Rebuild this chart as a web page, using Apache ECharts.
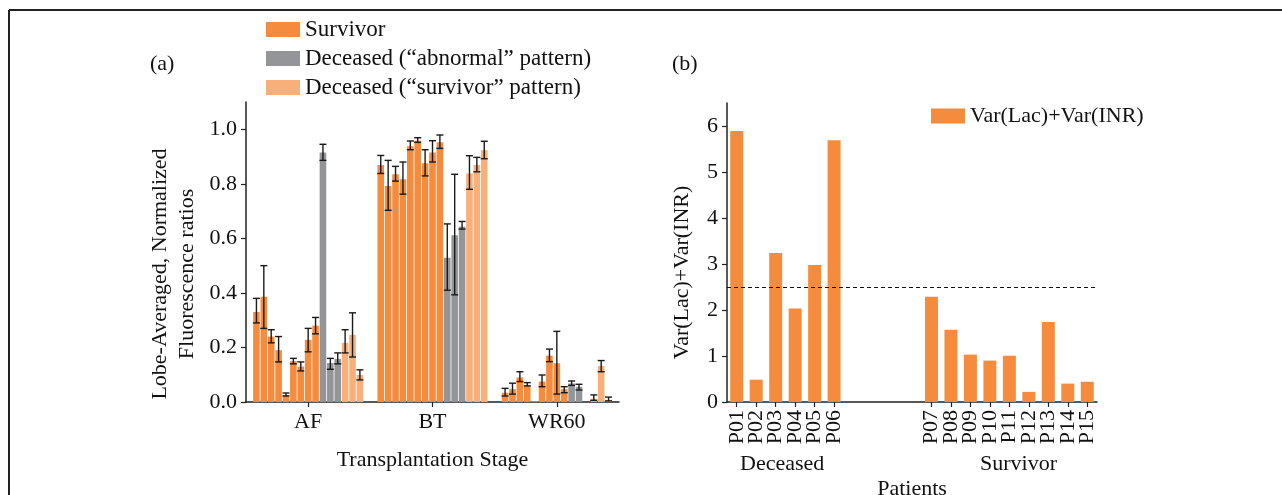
<!DOCTYPE html>
<html>
<head>
<meta charset="utf-8">
<script src="https://cdn.jsdelivr.net/npm/echarts@6/dist/echarts.min.js"></script>
<style>
  html, body { margin: 0; padding: 0; background: #fff; }
  #main { width: 1282px; height: 495px; }
</style>
</head>
<body>
<div id="main"></div>
<script>
// (a) fluorescence ratios, 15 livers per stage
const stages = ['AF', 'BT', 'WR60'];
const groupNames = ['Survivor', 'Deceased (\u201cabnormal\u201d pattern)', 'Deceased (\u201csurvivor\u201d pattern)'];
// which group each of the 15 bars belongs to
const barGroup = [0, 0, 0, 0, 0, 0, 0, 0, 0, 1, 1, 1, 2, 2, 2];

const afMean = [0.33, 0.386, 0.24, 0.19, 0.026, 0.15, 0.13, 0.228, 0.28, 0.915, 0.143, 0.158, 0.217, 0.246, 0.099];
const afLow = [0.29, 0.27, 0.217, 0.147, 0.022, 0.14, 0.114, 0.184, 0.25, 0.886, 0.12, 0.14, 0.18, 0.165, 0.081];
const afHigh = [0.38, 0.50, 0.265, 0.24, 0.033, 0.16, 0.147, 0.27, 0.31, 0.945, 0.16, 0.18, 0.265, 0.327, 0.118];

const btMean = [0.869, 0.792, 0.835, 0.817, 0.938, 0.958, 0.875, 0.915, 0.952, 0.529, 0.611, 0.643, 0.838, 0.869, 0.923];
const btLow = [0.838, 0.703, 0.81, 0.762, 0.925, 0.952, 0.829, 0.88, 0.93, 0.41, 0.393, 0.634, 0.78, 0.844, 0.892];
const btHigh = [0.904, 0.886, 0.864, 0.88, 0.957, 0.969, 0.925, 0.958, 0.979, 0.653, 0.835, 0.662, 0.903, 0.897, 0.956];

const wrMean = [0.034, 0.047, 0.09, 0.0625, 0.003, 0.075, 0.17, 0.142, 0.047, 0.068, 0.056, 0, 0.012, 0.132, 0.008];
const wrLow = [0.022, 0.029, 0.075, 0.059, null, 0.056, 0.148, 0.029, 0.034, 0.061, 0.044, null, 0.006, 0.111, 0.004];
const wrHigh = [0.05, 0.069, 0.111, 0.071, null, 0.099, 0.194, 0.259, 0.056, 0.077, 0.065, null, 0.026, 0.152, 0.018];

// (b) variance score per patient, blanks separate the two groups
const patients = ['P01', 'P02', 'P03', 'P04', 'P05', 'P06', ' ', '  ', '   ', '    ',
  'P07', 'P08', 'P09', 'P10', 'P11', 'P12', 'P13', 'P14', 'P15'];
const varScore = [5.89, 0.485, 3.24, 2.03, 2.98, 5.69, '-', '-', '-', '-',
  2.29, 1.57, 1.03, 0.90, 1.006, 0.22, 1.74, 0.40, 0.44];
const threshold = 2.5;
const yTicksA = [0, 0.2, 0.4, 0.6, 0.8, 1.0];
const yTicksB = [0, 1, 2, 3, 4, 5, 6];

const FONT = 'Liberation Serif';
const colors = ['#F58B3D', '#939598', '#F9AF7A'];
const axisColor = '#222';
const BAR_W = 6.6;
const BAR_GAP = 0.12;

var myChart = echarts.init(document.getElementById('main'));

const means = [afMean, btMean, wrMean];
const lows = [afLow, btLow, wrLow];
const highs = [afHigh, btHigh, wrHigh];

// one bar series per liver slot
let barSeries = barGroup.map((g, j) => ({
  name: groupNames[g],
  type: 'bar',
  xAxisIndex: 0,
  yAxisIndex: 0,
  barWidth: BAR_W,
  barGap: (BAR_GAP * 100) + '%',
  data: means.map(m => m[j]),
  itemStyle: { color: colors[g] },
  silent: true
}));

let errData = [];
for (let i = 0; i < stages.length; i++) {
  for (let j = 0; j < barGroup.length; j++) {
    if (lows[i][j] != null) errData.push([i, j, lows[i][j], highs[i][j]]);
  }
}

// error bars sit at the same offsets ECharts gives the bars
function renderErr(params, api) {
  const cat = api.value(0);
  const j = api.value(1);
  const lo = api.coord([cat, api.value(2)]);
  const hi = api.coord([cat, api.value(3)]);
  const n = barGroup.length;
  const total = n * BAR_W + (n - 1) * BAR_W * BAR_GAP;
  const x = lo[0] - total / 2 + j * BAR_W * (1 + BAR_GAP) + BAR_W / 2;
  const cap = 3.5;
  const style = { stroke: '#1a1a1a', lineWidth: 1.4 };
  return {
    type: 'group',
    children: [
      { type: 'line', shape: { x1: x, y1: lo[1], x2: x, y2: hi[1] }, style },
      { type: 'line', shape: { x1: x - cap, y1: lo[1], x2: x + cap, y2: lo[1] }, style },
      { type: 'line', shape: { x1: x - cap, y1: hi[1], x2: x + cap, y2: hi[1] }, style }
    ]
  };
}

const baseAxis = {
  axisLine: { show: true, lineStyle: { color: axisColor, width: 1.5 } },
  axisTick: { show: true, length: 5, lineStyle: { color: axisColor, width: 1.2 } },
  splitLine: { show: false },
  axisLabel: { color: '#111', fontFamily: FONT, fontSize: 22 },
  nameTextStyle: { color: '#111', fontFamily: FONT, fontSize: 22 }
};

let option = {
  animation: false,
  backgroundColor: '#fff',
  textStyle: { fontFamily: FONT },
  legend: [
    {
      data: groupNames,
      orient: 'vertical',
      left: 261,
      top: 13,
      itemWidth: 34,
      itemHeight: 15,
      itemGap: 6,
      icon: 'rect',
      selectedMode: false,
      textStyle: { fontFamily: FONT, fontSize: 23, lineHeight: 23, color: '#111' }
    },
    {
      data: ['Var(Lac)+Var(INR)'],
      left: 926,
      top: 100,
      itemWidth: 34,
      itemHeight: 15,
      icon: 'rect',
      selectedMode: false,
      textStyle: { fontFamily: FONT, fontSize: 22, lineHeight: 22, color: '#111' }
    }
  ],
  grid: [
    { left: 246, right: 663, top: 102, bottom: 93, outerBoundsMode: 'none' },
    { left: 727, right: 185, top: 103, bottom: 93, outerBoundsMode: 'none' }
  ],
  xAxis: [
    Object.assign({}, baseAxis, {
      gridIndex: 0,
      type: 'category',
      data: stages,
      axisTick: { show: true, alignWithLabel: true, length: 5, lineStyle: { color: axisColor, width: 1.2 } },
      axisLabel: Object.assign({}, baseAxis.axisLabel, { margin: 9 }),
      name: 'Transplantation Stage',
      nameLocation: 'middle',
      nameGap: 47
    }),
    Object.assign({}, baseAxis, {
      gridIndex: 1,
      type: 'category',
      data: patients,
      axisTick: {
        show: true, alignWithLabel: true, length: 5,
        interval: (idx, val) => val.trim() !== '',
        lineStyle: { color: axisColor, width: 1.2 }
      },
      axisLabel: Object.assign({}, baseAxis.axisLabel, { rotate: 90, margin: 8, interval: 0 }),
      name: 'Patients',
      nameLocation: 'middle',
      nameGap: 76
    })
  ],
  yAxis: [
    Object.assign({}, baseAxis, {
      gridIndex: 0,
      type: 'value',
      min: 0,
      max: 1.1,
      interval: 0.1,
      axisTick: { show: true, length: 5, customValues: yTicksA, lineStyle: { color: axisColor, width: 1.2 } },
      axisLabel: Object.assign({}, baseAxis.axisLabel, {
        margin: 9, customValues: yTicksA, formatter: v => v.toFixed(1)
      }),
      name: 'Lobe-Averaged, Normalized\nFluorescence ratios',
      nameLocation: 'middle',
      nameGap: 45,
      nameTextStyle: Object.assign({}, baseAxis.nameTextStyle, { lineHeight: 27, padding: [0, 44, 0, 0] })
    }),
    Object.assign({}, baseAxis, {
      gridIndex: 1,
      type: 'value',
      min: 0,
      max: 6.5,
      interval: 0.5,
      axisTick: { show: true, length: 5, customValues: yTicksB, lineStyle: { color: axisColor, width: 1.2 } },
      axisLabel: Object.assign({}, baseAxis.axisLabel, { margin: 9, customValues: yTicksB }),
      name: 'Var(Lac)+Var(INR)',
      nameLocation: 'middle',
      nameGap: 34,
      nameTextStyle: Object.assign({}, baseAxis.nameTextStyle, { padding: [0, 40, 0, 0] })
    })
  ],
  series: barSeries.concat([
    {
      name: 'err',
      type: 'custom',
      xAxisIndex: 0,
      yAxisIndex: 0,
      renderItem: renderErr,
      encode: { x: 0, y: [2, 3] },
      data: errData,
      silent: true,
      z: 5
    },
    {
      name: 'Var(Lac)+Var(INR)',
      type: 'bar',
      xAxisIndex: 1,
      yAxisIndex: 1,
      barWidth: 13,
      data: varScore,
      itemStyle: { color: colors[0] },
      silent: true,
      markLine: {
        silent: true,
        symbol: 'none',
        label: { show: false },
        lineStyle: { color: '#111', type: [4, 3], width: 1.2 },
        data: [{ yAxis: threshold }]
      }
    }
  ]),
  graphic: [
    { type: 'line', shape: { x1: 9, y1: 10, x2: 1282, y2: 10 }, style: { stroke: '#222', lineWidth: 2 } },
    { type: 'line', shape: { x1: 9, y1: 10, x2: 9, y2: 495 }, style: { stroke: '#222', lineWidth: 2 } },
    { type: 'text', left: 150, top: 53, style: { text: '(a)', font: '22px "Liberation Serif"', fill: '#111' } },
    { type: 'text', left: 672, top: 53, style: { text: '(b)', font: '22px "Liberation Serif"', fill: '#111' } },
    { type: 'text', left: 740, top: 453, style: { text: 'Deceased', font: '22px "Liberation Serif"', fill: '#111' } },
    { type: 'text', left: 980, top: 453, style: { text: 'Survivor', font: '22px "Liberation Serif"', fill: '#111' } }
  ]
};

myChart.setOption(option);
</script>
</body>
</html>
